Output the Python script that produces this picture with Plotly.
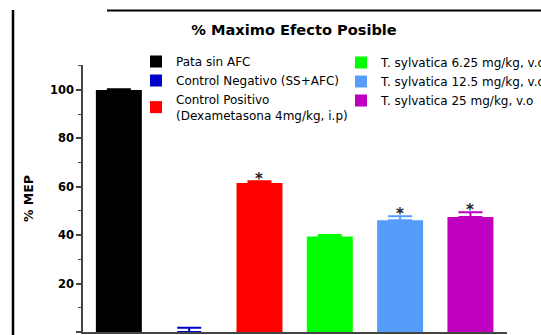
import plotly.graph_objects as go

# ---- data ----
categories = ["Pata sin AFC", "Control Negativo (SS+AFC)",
              "Control Positivo<br>(Dexametasona 4mg/kg, i.p)",
              "T. sylvatica 6.25 mg/kg, v.o", "T. sylvatica 12.5 mg/kg, v.o",
              "T. sylvatica 25 mg/kg, v.o"]
mep_values = [100.0, 0.0, 61.6, 39.5, 46.2, 47.5]
sem_values = [0.3, 1.8, 0.7, 0.6, 1.6, 2.0]
significance = ["", "", "*", "", "*", "*"]
bar_colors = ["#000000", "#0000C8", "#FF0000", "#00FF00", "#559CFB", "#BF00BF"]
legend_ids = ["legend", "legend", "legend", "legend2", "legend2", "legend2"]
y_ticks = [0, 20, 40, 60, 80, 100]

# ---- layout geometry (pixels) ----
W, H = 541, 335
L, R, T, B = 83, 34, 65, 3
pw, ph = W - L - R, H - T - B

def px_x(x):
    return (x - L) / pw

def px_y(y):
    return (H - B - y) / ph

FONT = "DejaVu Sans, Arial, sans-serif"

fig = go.Figure()
for i, cat in enumerate(categories):
    fig.add_trace(go.Bar(
        x=[i], y=[mep_values[i]], name=cat, width=0.654,
        marker=dict(color=bar_colors[i], line=dict(width=0)),
        error_y=dict(type="data", array=[sem_values[i]], arrayminus=[0],
                     symmetric=False, color=bar_colors[i], thickness=2, width=12),
        legend=legend_ids[i],
    ))

for i, s in enumerate(significance):
    if s:
        fig.add_annotation(x=i, y=mep_values[i] + sem_values[i], text=s,
                           showarrow=False, yanchor="bottom", yshift=-9,
                           font=dict(family=FONT, size=15, color="#222", weight="bold"))

legend_font = dict(family=FONT, size=12, color="black")

fig.update_layout(
    width=W, height=H,
    margin=dict(l=L, r=R, t=T, b=B, autoexpand=False),
    plot_bgcolor="white", paper_bgcolor="white",
    barmode="overlay",
    font=dict(family=FONT, color="black"),
    title=dict(text="% Maximo Efecto Posible", x=294 / W, xanchor="center",
               y=1 - 30 / H, yanchor="middle", xref="container", yref="container",
               font=dict(family=FONT, size=14.6, color="black", weight="bold")),
    xaxis=dict(range=[-0.51, 5.52], showticklabels=False, ticks="",
               showgrid=False, zeroline=False, showline=True,
               linecolor="#444", linewidth=1.5),
    yaxis=dict(range=[0, 110.3], tickvals=y_ticks, ticks="outside", ticklen=5,
               tickwidth=1.5, tickcolor="#444", showline=True, linecolor="#444",
               linewidth=1.5, showgrid=False, zeroline=False,
               minor=dict(dtick=10, ticks="outside", ticklen=3, tickcolor="#444",
                          tickwidth=1, showgrid=False),
               tickfont=dict(family=FONT, size=11.5, color="black", weight="bold"),
               title=dict(text="% MEP", standoff=14,
                          font=dict(family=FONT, size=12.5, color="black", weight="bold"))),
    legend=dict(x=px_x(136), y=px_y(47), xanchor="left", yanchor="top",
                bgcolor="rgba(0,0,0,0)", traceorder="normal", font=legend_font),
    legend2=dict(x=px_x(341), y=px_y(48), xanchor="left", yanchor="top",
                 bgcolor="rgba(0,0,0,0)", traceorder="normal", font=legend_font),
    shapes=[
        dict(type="line", xref="paper", yref="paper",
             x0=px_x(13), x1=px_x(13), y0=px_y(10), y1=px_y(340),
             line=dict(color="black", width=2.5)),
        dict(type="line", xref="paper", yref="paper",
             x0=px_x(107), x1=px_x(545), y0=px_y(10.5), y1=px_y(10.5),
             line=dict(color="black", width=2)),
    ],
)

fig.write_html("out.html", config={"displayModeBar": False}, post_script=[
    "document.body.style.margin='0';document.body.style.padding='0';"
    "document.body.style.overflow='hidden';"
])
